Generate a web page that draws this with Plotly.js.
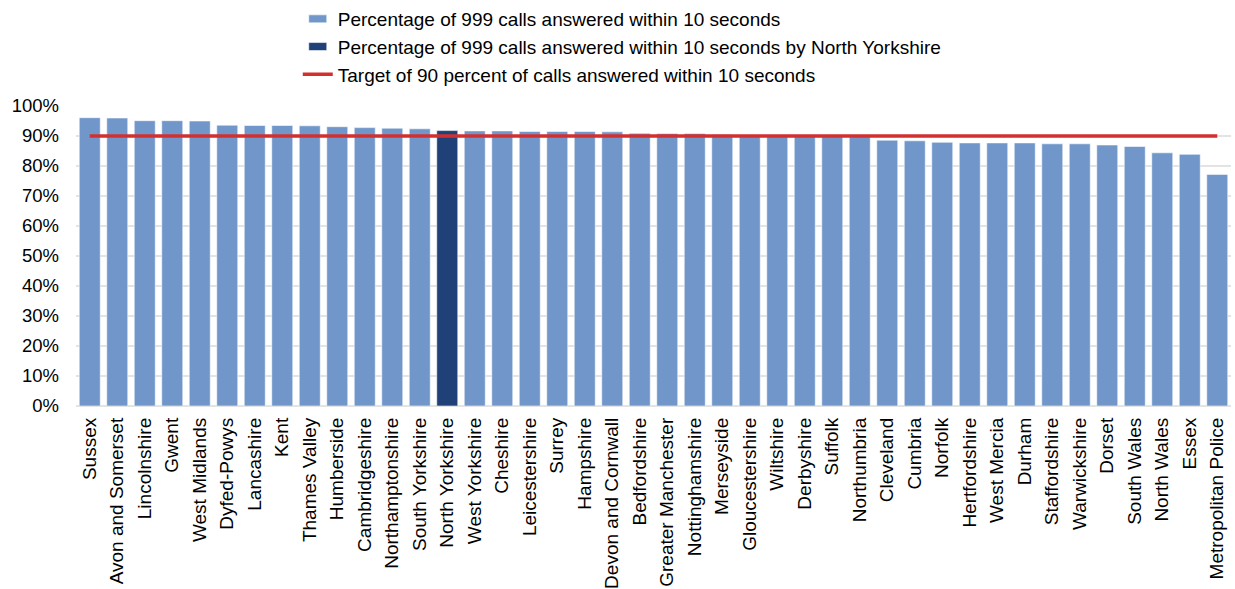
<!DOCTYPE html>
<html>
<head>
<meta charset="utf-8">
<script src="https://cdn.plot.ly/plotly-3.0.1.min.js"></script>
<style>html,body{margin:0;padding:0;background:#fff;}#chart{width:1235px;height:589px;}</style>
</head>
<body>
<div id="chart"></div>
<script>
const forces = ["Sussex","Avon and Somerset","Lincolnshire","Gwent","West Midlands","Dyfed-Powys","Lancashire","Kent","Thames Valley","Humberside","Cambridgeshire","Northamptonshire","South Yorkshire","North Yorkshire","West Yorkshire","Cheshire","Leicestershire","Surrey","Hampshire","Devon and Cornwall","Bedfordshire","Greater Manchester","Nottinghamshire","Merseyside","Gloucestershire","Wiltshire","Derbyshire","Suffolk","Northumbria","Cleveland","Cumbria","Norfolk","Hertfordshire","West Mercia","Durham","Staffordshire","Warwickshire","Dorset","South Wales","North Wales","Essex","Metropolitan Police"];
const pctAnswered = [96.1,96.0,95.1,95.1,95.0,93.6,93.5,93.5,93.4,93.1,92.8,92.6,92.4,91.8,91.7,91.7,91.5,91.5,91.5,91.4,90.9,90.8,90.8,90.5,90.3,90.2,90.1,90.0,89.9,88.6,88.4,87.9,87.7,87.7,87.7,87.4,87.4,87.0,86.5,84.4,83.9,77.2];
const highlightForce = "North Yorkshire";
const targetPct = 90;
const tickVals = [0,10,20,30,40,50,60,70,80,90,100];
const tickText = ["0%","10%","20%","30%","40%","50%","60%","70%","80%","90%","100%"];

const otherY = pctAnswered.map((v,i)=> forces[i]===highlightForce ? null : v);
const highY = pctAnswered.map((v,i)=> forces[i]===highlightForce ? v : null);
const targetY = forces.map(()=>targetPct);

const traces = [
  {type:'bar', x:forces, y:otherY, name:'Percentage of 999 calls answered within 10 seconds',
   marker:{color:'#7197CA', line:{color:'rgba(255,255,255,0.55)', width:1}}, legendgroup:'a'},
  {type:'bar', x:forces, y:highY, name:'Percentage of 999 calls answered within 10 seconds by North Yorkshire',
   marker:{color:'#1F4178', line:{color:'rgba(255,255,255,0.55)', width:1}}, legendgroup:'b'},
  {type:'scatter', mode:'lines', x:forces, y:targetY, name:'Target of 90 percent of calls answered within 10 seconds',
   line:{color:'#D42F2F', width:3.5}, legendgroup:'c'}
];

const layout = {
  width:1235, height:589,
  margin:{l:76, r:4, t:106, b:183},
  paper_bgcolor:'#fff', plot_bgcolor:'#fff',
  font:{family:'Liberation Sans, Arial, sans-serif', color:'#000', size:19},
  barmode:'overlay', bargap:0.236,
  showlegend:true,
  legend:{x:0.192, y:1.009, xanchor:'left', yanchor:'top', yref:'container', orientation:'v',
          font:{size:19, color:'#000'}, traceorder:'grouped', tracegroupgap:0, itemwidth:30},
  xaxis:{type:'category', tickangle:-90, tickfont:{size:19}, showgrid:false, zeroline:false,
         showline:false, ticks:'', automargin:false, ticklabelstandoff:7},
  yaxis:{range:[0,100], tickvals:tickVals, ticktext:tickText, tickfont:{size:18.5},
         gridcolor:'#E3E3E3', gridwidth:1.5, zeroline:true, zerolinecolor:'#E3E3E3', zerolinewidth:1.5,
         showline:false, ticks:'', ticklabelstandoff:16, automargin:false}
};

function widenBarSwatches(){
  const root = document.getElementById('chart');
  root.querySelectorAll('g.legend g.legendpoints path').forEach(function(p){
    const d = (p.getAttribute('d') || '').replace(/\s/g,'');
    if (d.indexOf('M6,6H-6V-6H6Z') === 0) {
      p.setAttribute('d','M9,4H-9V-4H9Z');
    }
  });
}

const gdEl = document.getElementById('chart');
Plotly.newPlot(gdEl, traces, layout, {displayModeBar:false, staticPlot:true});
widenBarSwatches();
if (gdEl.on) gdEl.on('plotly_afterplot', widenBarSwatches);
[0, 30, 100, 300].forEach(function(t){ setTimeout(widenBarSwatches, t); });
</script>
</body>
</html>
